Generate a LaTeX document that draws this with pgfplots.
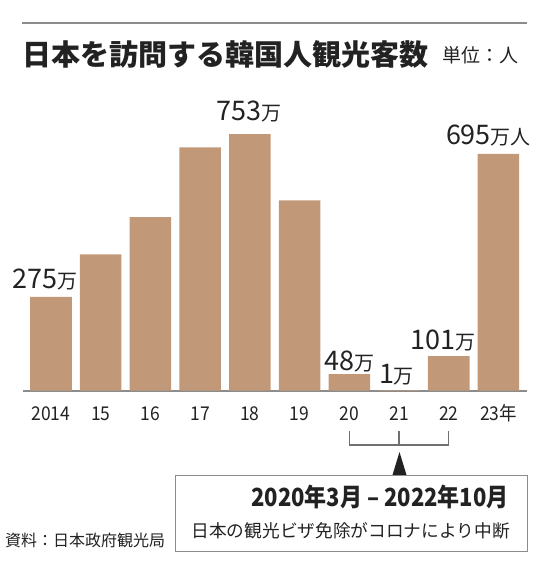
\documentclass[border=0pt]{standalone}
\usepackage{fontspec}
\setmainfont{Noto Sans CJK JP}
\newfontfamily\condfont{Noto Sans CJK JP}[FakeStretch=0.92]
\newfontfamily\boxfont{Noto Sans CJK JP}[FakeStretch=0.88]
\usepackage{pgfplots}
\pgfplotsset{compat=1.18}
\definecolor{barcol}{RGB}{194,153,120}
\definecolor{txt}{RGB}{34,34,34}
\definecolor{linegray}{RGB}{140,140,140}
\newcommand\val[2]{{\fontsize{27}{27}\selectfont #1}{\fontsize{20}{20}\selectfont #2}}
\begin{document}
\begin{tikzpicture}
\useasboundingbox (0,0) rectangle (550pt,-561pt);
% top rule
\draw[linegray, line width=2pt] (22pt,-23.5pt) -- (527pt,-23.5pt);
% title
\node[anchor=west, inner sep=0pt, text=txt] at (22pt,-54pt) {\fontsize{29}{29}\selectfont\bfseries 日本を訪問する韓国人観光客数};
\node[anchor=west, inner sep=0pt, text=txt] at (442pt,-55pt) {\fontsize{19}{19}\selectfont 単位：人};
\begin{axis}[
  at={(23pt,-390.5pt)}, anchor=south west,
  scale only axis, width=504pt, height=272.48pt,
  xmin=-0.563, xmax=9.574, ymin=0, ymax=800,
  axis x line*=bottom, axis y line=none,
  x axis line style={linegray, line width=2pt, -},
  xtick={0,...,9},
  xticklabels={2014,15,16,17,18,19,20,21,22,23年},
  xticklabel style={anchor=base, yshift=-30pt, text=txt, font=\condfont\fontsize{19}{19}\selectfont},
  major tick length=0pt,
  ytick=\empty,
  clip=false,
]
\addplot[ybar, bar width=0.835, fill=barcol, draw=none] coordinates {
  (0,275) (1,400) (2,509) (3,714) (4,753) (5,558) (6,48) (7,1) (8,101) (9,695)
};
\node[anchor=base, text=txt, inner sep=0pt] at (axis cs:-0.12,300) {\val{275}{万}};
\node[anchor=base, text=txt, inner sep=0pt] at (axis cs:3.982,794) {\val{753}{万}};
\node[anchor=base, text=txt, inner sep=0pt] at (axis cs:5.994,60) {\val{48}{万}};
\node[anchor=base, text=txt, inner sep=0pt] at (axis cs:6.949,22) {\val{1}{万}};
\node[anchor=base, text=txt, inner sep=0pt] at (axis cs:7.884,119) {\val{101}{万}};
\node[anchor=base, text=txt, inner sep=0pt] at (axis cs:8.799,721) {\val{695}{万人}};
\end{axis}
% bracket
\draw[linegray!80!black, line width=1.2pt] (349.3pt,-431pt) -- (349.3pt,-445pt) -- (448.8pt,-445pt) -- (448.8pt,-431pt);
\draw[linegray!80!black, line width=1.2pt] (399pt,-431pt) -- (399pt,-445pt);
\fill[txt] (399.5pt,-452pt) -- (406.5pt,-475pt) -- (392.5pt,-475pt) -- cycle;
% box
\draw[linegray, line width=1pt] (175pt,-475pt) rectangle (527pt,-551.5pt);
\node[anchor=base east, inner sep=0pt, text=txt] at (509pt,-506.5pt) {\boxfont\fontsize{25}{25}\selectfont\bfseries 2020年3月 – 2022年10月};
\node[anchor=east, inner sep=0pt, text=txt] at (510pt,-531pt) {\fontsize{17.7}{17.7}\selectfont 日本の観光ビザ免除がコロナにより中断};
% source
\node[anchor=west, inner sep=0pt, text=txt] at (5pt,-540pt) {\fontsize{16}{16}\selectfont 資料：日本政府観光局};
\end{tikzpicture}
\end{document}
